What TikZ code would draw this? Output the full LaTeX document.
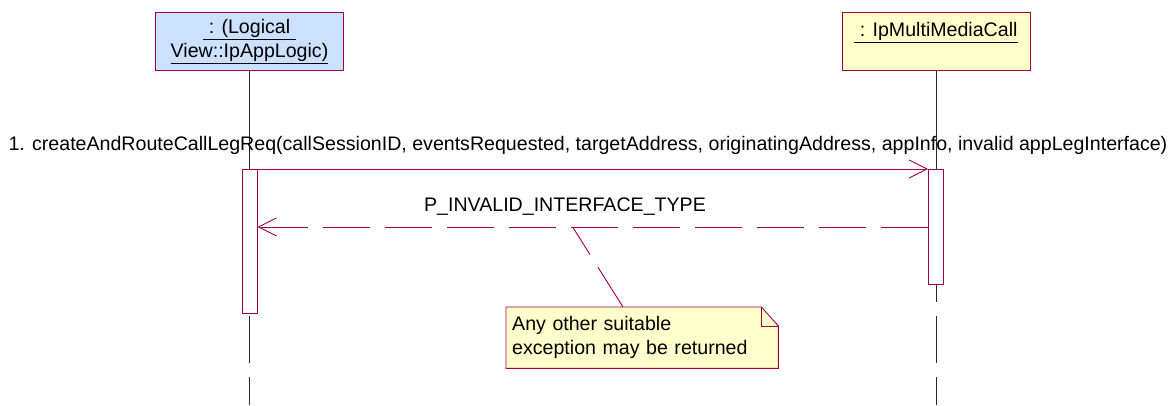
\documentclass[tikz,border=0pt]{standalone}
\usepackage{fontspec}
\setmainfont{Liberation Sans}
\usetikzlibrary{arrows.meta,positioning,calc,backgrounds}
\definecolor{umlred}{RGB}{163,0,64}
\definecolor{headblue}{RGB}{204,224,255}
\definecolor{noteyellow}{RGB}{255,255,204}

\begin{document}
\begin{tikzpicture}[
  x=1pt, y=-1pt,
  font=\fontsize{19.6}{24}\selectfont,
  head/.style     = {draw=umlred, line width=0.9pt, align=center,
                     minimum width=188pt, minimum height=58pt, inner sep=0pt},
  act/.style      = {draw=umlred, fill=white, line width=0.9pt,
                     minimum width=15pt, inner sep=0pt},
  life/.style     = {black!85, line width=1pt},
  lifedash/.style = {life, dash pattern=on 47pt off 14pt, dash phase=47pt},
  msg/.style      = {umlred, line width=0.9pt,
                     -{Straight Barb[length=18pt,width=18pt]}},
  ret/.style      = {msg, dash pattern=on 47pt off 15pt},
  lbl/.style      = {inner sep=1pt},
  notetext/.style = {align=left, text width=260pt, inner xsep=6pt,
                     inner ysep=0pt, minimum height=61pt, anchor=north west},
  notelink/.style = {umlred, line width=0.9pt, dash pattern=on 47pt off 15pt},
]
\useasboundingbox (0,0) rectangle (1173,405);

% ----------------------------- object heads -------------------------------
\node[head, fill=headblue] (logic) at (249.5,41.3)
  {\underline{\ : (Logical\ }\\\underline{View::IpAppLogic)}};
\node[head, fill=noteyellow] (mmcall) at (936,41.3)
  {\underline{\ : IpMultiMediaCall}\\\mbox{}};

% ----------------------------- lifelines ----------------------------------
\coordinate (msgtop) at (0,169);
\coordinate (lifeend) at (0,302);
\coordinate (pagebottom) at (0,405);
\draw[life] (logic.south) -- (logic.south |- lifeend);
\draw[lifedash] (logic.south |- lifeend) -- (logic.south |- pagebottom);
\draw[life] (mmcall.south) -- (mmcall.south |- lifeend);
\draw[lifedash] (mmcall.south |- lifeend) -- (mmcall.south |- pagebottom);

% ----------------------------- activations --------------------------------
\node[act, minimum height=144pt, anchor=north] (logicact)
  at (logic.south |- msgtop) {};
\node[act, minimum height=115pt, anchor=north] (callact)
  at (mmcall.south |- msgtop) {};

% ----------------------------- messages -----------------------------------
\draw[msg] (logicact.north east) -- (callact.north west);
\node[lbl] (msglbl) at (588,145)
  {1. createAndRouteCallLegReq(callSessionID, eventsRequested, targetAddress, originatingAddress, appInfo, invalid appLegInterface)};

\draw[ret] (callact.west) -- coordinate[pos=0.53] (notefoot)
  (callact.west -| logicact.east);
\node[lbl] (retlbl) at (565,207) {P\_INVALID\_INTERFACE\_TYPE};

% ----------------------------- note ---------------------------------------
\node[notetext] (note) at (506,307)
  {Any other suitable\\exception may be returned};
\begin{scope}[on background layer]
  \filldraw[umlred, fill=noteyellow, line width=0.9pt]
    (note.south west) |- ([xshift=-17pt]note.north east)
    -- ([yshift=-19pt]note.north east) -- (note.south east) -- cycle;
  \draw[umlred, line width=0.9pt]
    ([xshift=-17pt]note.north east) |- ([yshift=-19pt]note.north east);
\end{scope}
\draw[notelink] ([xshift=117pt]note.north west) -- (notefoot);

\end{tikzpicture}
\end{document}
